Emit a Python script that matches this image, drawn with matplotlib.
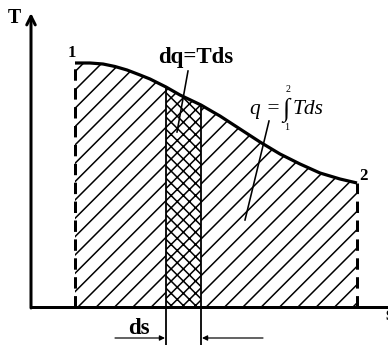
import numpy as np
import matplotlib
matplotlib.use("Agg")
import matplotlib.pyplot as plt

# curve T(s) (s from the T axis, T from the s axis, in px)
s_curve = [44, 59, 72, 84, 96, 109, 119, 135, 149, 170, 182, 189,
           209, 229, 249, 269, 289, 309, 326]
T_curve = [244, 244, 243, 240.5, 237, 232, 228, 220, 212, 202, 195, 191,
           178, 165, 153, 143, 134, 128, 124]
strip = (7, 9)          # indices where the dq strip starts / ends
s_max, T_max = 357, 294

DPI = 110
plt.rcParams['hatch.linewidth'] = 1.0
serif = ['Liberation Serif', 'DejaVu Serif']

fig = plt.figure(figsize=(388 / DPI, 345 / DPI), dpi=DPI)
ax = fig.add_axes([0, 0, 1, 1])
ax.set_xlim(-31, 357)
ax.set_ylim(-38, 307)
ax.axis('off')

px = 72 / DPI  # one pixel in points

# area under the curve
ax.fill_between(s_curve, 0, T_curve, facecolor='white', edgecolor='black',
                hatch='//', linewidth=0, zorder=1)
i0, i1 = strip
ax.fill_between(s_curve[i0:i1 + 1], 0, T_curve[i0:i1 + 1], facecolor='white',
                edgecolor='black', hatch='xxx', linewidth=0, zorder=2)

# curve
ax.plot(s_curve, T_curve, color='black', lw=3.2 * px, solid_capstyle='butt',
        solid_joinstyle='round', zorder=5)

# dashed ordinates at 1 and 2
for i in (0, -1):
    ax.plot([s_curve[i], s_curve[i]], [0, T_curve[i]], color='black', lw=3 * px,
            dashes=(3.8, 2.5), zorder=4)

# strip borders reaching below the axis
for i in (i0, i1):
    ax.plot([s_curve[i], s_curve[i]], [-38, T_curve[i]], color='black', lw=1.8 * px, zorder=4)

# axes
ax.plot([0, s_max + 5], [0, 0], color='black', lw=3 * px, solid_capstyle='butt', zorder=6)
ax.annotate('', xy=(0, T_max), xytext=(0, -1),
            arrowprops=dict(arrowstyle='->', lw=3 * px, color='black',
                            mutation_scale=14, shrinkA=0, shrinkB=0), zorder=6)
ax.text(-17, 289, 'T', family=serif, weight='bold', fontsize=13, ha='center', va='center')
ax.text(354, -8, 's', family=serif, weight='bold', fontsize=13, ha='left', va='center')

# point labels
ax.text(s_curve[0] - 3, T_curve[0] + 10, '1', family=serif, weight='bold', fontsize=11,
        ha='center', va='center')
ax.text(s_curve[-1] + 6, T_curve[-1] + 7, '2', family=serif, weight='bold', fontsize=11,
        ha='center', va='center')

# dq = Tds
ax.text(165, 250, 'dq=Tds', family=serif, weight='bold', fontsize=15, ha='center',
        va='center', zorder=7)
ax.plot([157, 146], [236, 175], color='black', lw=1.6 * px, zorder=7)

# q = integral
ax.text(219, 193, 'q = ', family=serif, style='italic', fontsize=14, ha='left',
        va='baseline', zorder=7)
ax.text(255, 191, '\u222b', family=serif, fontsize=17, ha='center', va='baseline',
        zorder=7)
ax.text(257.5, 217, '2', family=serif, fontsize=6.5, ha='center', va='center', zorder=7)
ax.text(256, 179, '1', family=serif, fontsize=6.5, ha='center', va='center', zorder=7)
ax.text(262, 193, 'Tds', family=serif, style='italic', fontsize=14, ha='left',
        va='baseline', zorder=7)
ax.plot([238, 214], [186, 87], color='black', lw=1.6 * px, zorder=7)

# ds with arrows
ax.text(108, -21, 'ds', family=serif, weight='bold', fontsize=15, ha='center',
        va='center')
arr = dict(arrowstyle='-|>', lw=1.2 * px, color='black', mutation_scale=7,
           shrinkA=0, shrinkB=0)
ax.annotate('', xy=(s_curve[i0] - 1, -31), xytext=(84, -31), arrowprops=arr)
ax.annotate('', xy=(s_curve[i1] + 1, -31), xytext=(232, -31), arrowprops=arr)

fig.savefig('out.png', dpi=DPI, facecolor='white')
